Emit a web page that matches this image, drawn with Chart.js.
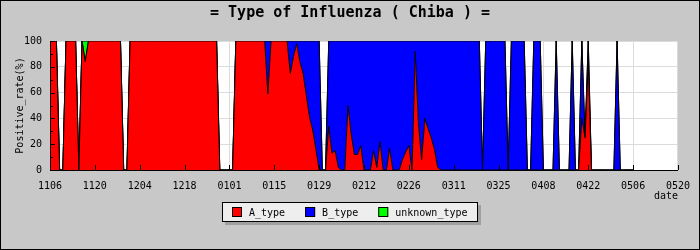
<!DOCTYPE html>
<html>
<head>
<meta charset="utf-8">
<script src="https://cdn.jsdelivr.net/npm/chart.js@4/dist/chart.umd.min.js"></script>
<style>
  html, body { margin: 0; padding: 0; background: #c8c8c8; }
</style>
</head>
<body>
<canvas id="chart" width="700" height="250"></canvas>
<script>
// daily positive rate (%), first value = 11/06, one value per day
var chartTitle = '= Type of Influenza ( Chiba ) =';
var tickLabels = ['1106','1120','1204','1218','0101','0115','0129','0212','0226','0311','0325','0408','0422','0506','0520'];
var seriesNames = ['A_type', 'B_type', 'unknown_type'];
var seriesColors = ['#ff0000', '#0000ff', '#00ff00'];

var A_type = [
  100,100,100,0,0,100,100,100,100,0,100,84,100,100,
  100,100,100,100,100,100,100,100,100,0,0,100,100,100,
  100,100,100,100,100,100,100,100,100,100,100,100,100,100,
  100,100,100,100,100,100,100,100,100,100,100,0,0,0,
  0,0,100,100,100,100,100,100,100,100,100,100,59,100,
  100,100,100,100,100,75,88,98,84,75,58,41,31,16,
  0,0,0,34,13,15,2,0,0,50,28,12,12,19,
  0,0,0,15,2,22,0,0,17,0,0,0,8,14,
  19,0,92,36,8,40,32,25,16,2,0,0,0,0,
  0,0,0,0,0,0,0,0,0,0,0,0,0,0,
  0,0,0,0,0,0,0,0,0,0,0,0,0,0,
  0,0,0,0,0,0,0,0,0,0,0,0,40,25,
  84,0,0,0,0,0,0,0,0,0,0,0,0,0,
  0
];
var B_type = [
  0,0,0,0,0,0,0,0,0,0,0,0,0,0,
  0,0,0,0,0,0,0,0,0,0,0,0,0,0,
  0,0,0,0,0,0,0,0,0,0,0,0,0,0,
  0,0,0,0,0,0,0,0,0,0,0,0,0,0,
  0,0,0,0,0,0,0,0,0,0,0,0,41,0,
  0,0,0,0,0,25,12,2,16,25,42,59,69,84,
  100,0,0,66,87,85,98,100,100,50,72,88,88,81,
  100,100,100,85,98,78,100,100,83,100,100,100,92,86,
  81,100,8,64,92,60,68,75,84,98,100,100,100,100,
  100,100,100,100,100,100,100,100,100,0,100,100,100,100,
  100,100,100,0,100,100,100,100,100,0,0,100,100,100,
  0,0,0,0,100,0,0,0,0,100,0,0,60,0,
  16,0,0,0,0,0,0,0,0,100,0,0,0,0,
  0
];
var unknown_type = [
  0,0,0,0,0,0,0,0,0,0,0,16,0,0,
  0,0,0,0,0,0,0,0,0,0,0,0,0,0,
  0,0,0,0,0,0,0,0,0,0,0,0,0,0,
  0,0,0,0,0,0,0,0,0,0,0,0,0,0,
  0,0,0,0,0,0,0,0,0,0,0,0,0,0,
  0,0,0,0,0,0,0,0,0,0,0,0,0,0,
  0,0,0,0,0,0,0,0,0,0,0,0,0,0,
  0,0,0,0,0,0,0,0,0,0,0,0,0,0,
  0,0,0,0,0,0,0,0,0,0,0,0,0,0,
  0,0,0,0,0,0,0,0,0,0,0,0,0,0,
  0,0,0,0,0,0,0,0,0,0,0,0,0,0,
  0,0,0,0,0,0,0,0,0,0,0,0,0,0,
  0,0,0,0,0,0,0,0,0,0,0,0,0,0,
  0
];

var MONO = '"DejaVu Sans Mono", "Liberation Mono", monospace';

function toPoints(arr) {
  return arr.map(function (v, i) { return { x: i, y: v }; });
}

// grey background, white plot area
var background = {
  id: 'background',
  beforeDraw: function (chart) {
    var ctx = chart.ctx, a = chart.chartArea;
    ctx.save();
    ctx.fillStyle = '#c8c8c8';
    ctx.fillRect(0, 0, chart.width, chart.height);
    ctx.fillStyle = '#ffffff';
    ctx.fillRect(a.left, a.top, a.right - a.left, a.bottom - a.top);
    ctx.restore();
  }
};

// axis lines and small inside ticks drawn over the areas
var insideTicks = {
  id: 'insideTicks',
  afterDatasetsDraw: function (chart) {
    var ctx = chart.ctx, a = chart.chartArea;
    var x = chart.scales.x, y = chart.scales.y;
    ctx.save();
    ctx.strokeStyle = '#000';
    ctx.lineWidth = 1;
    ctx.beginPath();
    for (var v = 0; v <= 100; v += 10) {
      var py = Math.round(y.getPixelForValue(v)) + 0.5;
      ctx.moveTo(a.left, py);
      ctx.lineTo(a.left + (v % 20 === 0 ? 5 : 3), py);
    }
    for (var i = 0; i < tickLabels.length; i++) {
      var px = Math.round(x.getPixelForValue(i * 14)) + 0.5;
      ctx.moveTo(px, a.bottom);
      ctx.lineTo(px, a.bottom - 5);
    }
    ctx.moveTo(a.left + 0.5, a.top);
    ctx.lineTo(a.left + 0.5, a.bottom + 0.5);
    ctx.lineTo(a.right, a.bottom + 0.5);
    ctx.stroke();
    ctx.restore();
  }
};

// title, boxed legend with drop shadow, outer frame
var decorations = {
  id: 'decorations',
  afterDraw: function (chart) {
    var ctx = chart.ctx;
    ctx.save();
    ctx.fillStyle = '#000';
    ctx.font = 'bold 15px ' + MONO;
    ctx.textAlign = 'center';
    ctx.textBaseline = 'middle';
    ctx.fillText(chartTitle, chart.width / 2, 13);

    ctx.textAlign = 'left';
    ctx.font = '10px ' + MONO;
    var widths = seriesNames.map(function (n) { return ctx.measureText(n).width; });
    var total = 10 + 11;
    widths.forEach(function (w, i) { total += 17 + w + (i < widths.length - 1 ? 20 : 0); });
    total = Math.round(total);
    var bx = Math.round(chart.width / 2 - total / 2), by = 202, bh = 20;
    ctx.fillStyle = '#a0a0a0';
    ctx.fillRect(bx + 3, by + 3, total, bh);
    ctx.fillStyle = '#eeeeee';
    ctx.fillRect(bx, by, total, bh);
    ctx.strokeStyle = '#000';
    ctx.lineWidth = 1;
    ctx.strokeRect(bx + 0.5, by + 0.5, total - 1, bh - 1);
    var cx = bx + 10;
    seriesNames.forEach(function (n, i) {
      ctx.fillStyle = seriesColors[i];
      ctx.fillRect(cx, by + 5, 10, 10);
      ctx.strokeRect(cx + 0.5, by + 5.5, 9, 9);
      ctx.fillStyle = '#000';
      ctx.fillText(n, cx + 17, by + bh / 2 + 1);
      cx += 17 + widths[i] + 20;
    });
    ctx.strokeRect(0.5, 0.5, chart.width - 1, chart.height - 1);
    ctx.restore();
  }
};

new Chart(document.getElementById('chart'), {
  type: 'line',
  data: {
    datasets: [
      { label: seriesNames[0], data: toPoints(A_type), backgroundColor: seriesColors[0], fill: 'origin' },
      { label: seriesNames[1], data: toPoints(B_type), backgroundColor: seriesColors[1], fill: '-1' },
      { label: seriesNames[2], data: toPoints(unknown_type), backgroundColor: seriesColors[2], fill: '-1' }
    ]
  },
  options: {
    responsive: false,
    animation: false,
    events: [],
    layout: { padding: { left: 0, right: 20, top: 41, bottom: 48 } },
    elements: {
      line: { borderColor: '#000', borderWidth: 1, tension: 0 },
      point: { radius: 0 }
    },
    plugins: {
      legend: { display: false },
      tooltip: { enabled: false },
      title: { display: false }
    },
    scales: {
      x: {
        type: 'linear',
        min: 0,
        max: 196,
        grid: { color: '#dcdcdc', drawTicks: false },
        border: { color: '#000' },
        ticks: {
          stepSize: 14,
          autoSkip: false,
          maxRotation: 0,
          padding: 10,
          color: '#000',
          font: { family: MONO, size: 10 },
          callback: function (v) { return tickLabels[v / 14] || ''; }
        },
        title: { display: true, text: 'date', align: 'end', color: '#000', font: { family: MONO, size: 10 }, padding: 0 },
        afterFit: function (s) { s.height = 32; }
      },
      y: {
        stacked: true,
        min: 0,
        max: 100,
        grid: { color: '#dcdcdc', drawTicks: false },
        border: { color: '#000' },
        ticks: { stepSize: 20, padding: 8, color: '#000', font: { family: MONO, size: 10 } },
        title: { display: true, text: 'Positive_rate(%)', color: '#000', font: { family: MONO, size: 10 }, padding: { top: 14, bottom: 0 } },
        afterFit: function (s) { s.width = 50; }
      }
    }
  },
  plugins: [background, insideTicks, decorations]
});
</script>
</body>
</html>
